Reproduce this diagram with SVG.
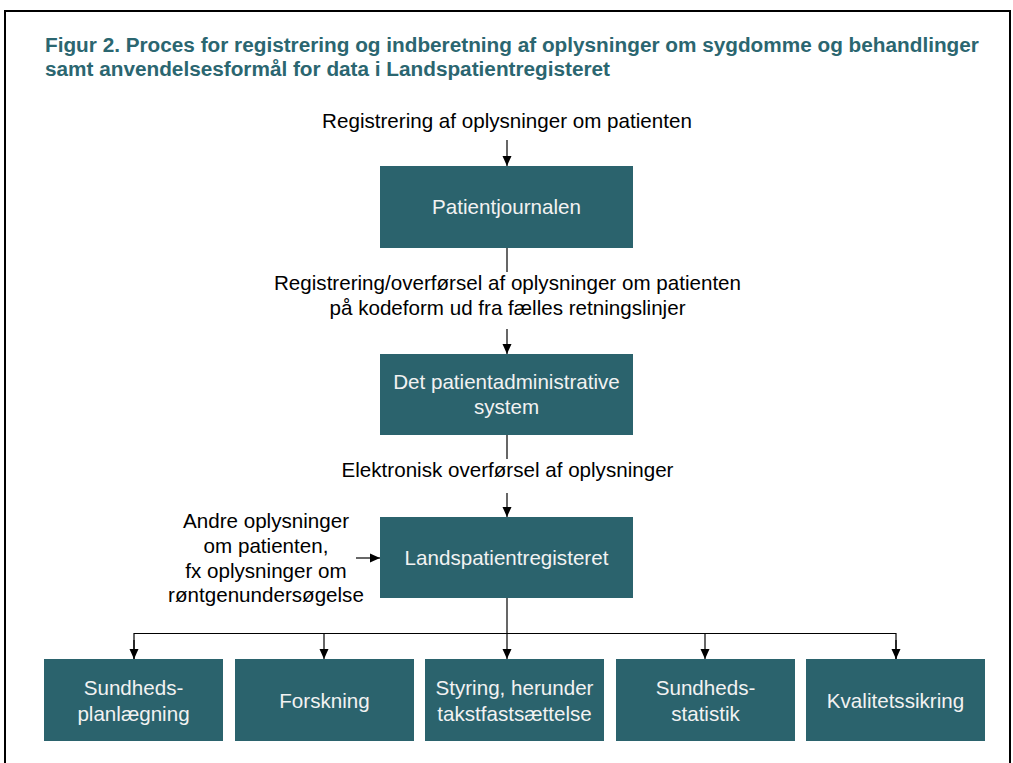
<svg xmlns="http://www.w3.org/2000/svg" width="1013" height="763" viewBox="0 0 1013 763">
  <style>
    .title { font-family: "Liberation Sans", Arial, sans-serif; font-weight: bold; font-size: 20.75px; fill: #2b6670; }
    .lbl { font-family: "Liberation Sans", Arial, sans-serif; font-size: 20.6px; fill: #000; text-anchor: middle; }
    .box { fill: #2b636d; }
    .btxt { font-family: "Liberation Sans", Arial, sans-serif; font-size: 20.6px; fill: #f2f2f2; text-anchor: middle; }
    .conn { stroke: #000; stroke-width: 1.2; fill: none; }
  </style>
  <defs>
    <marker id="arr" markerUnits="userSpaceOnUse" markerWidth="10" markerHeight="10" viewBox="0 0 10 10" refX="10" refY="5" orient="auto">
      <path d="M0,0.5 L10,5 L0,9.5 Z" fill="#000"/>
    </marker>
  </defs>
  <rect x="0" y="0" width="1013" height="763" fill="#fff"/>
  <rect x="5" y="11" width="1005" height="770" fill="none" stroke="#000" stroke-width="2"/>

  <g id="title">
    <text class="title" x="45" y="52">Figur 2. Proces for registrering og indberetning af oplysninger om sygdomme og behandlinger</text>
    <text class="title" x="45" y="76">samt anvendelsesformål for data i Landspatientregisteret</text>
  </g>

  <g id="labels">
    <text class="lbl" x="507" y="128">Registrering af oplysninger om patienten</text>
    <text class="lbl" x="507.5" y="290">Registrering/overførsel af oplysninger om patienten</text>
    <text class="lbl" x="507.5" y="314.5">på kodeform ud fra fælles retningslinjer</text>
    <text class="lbl" x="507.5" y="477">Elektronisk overførsel af oplysninger</text>
    <text class="lbl" x="266" y="528">Andre oplysninger</text>
    <text class="lbl" x="266" y="553">om patienten,</text>
    <text class="lbl" x="266" y="578">fx oplysninger om</text>
    <text class="lbl" x="266" y="602">røntgenundersøgelse</text>
  </g>

  <g id="connectors">
    <line class="conn" x1="507" y1="140" x2="507" y2="166" marker-end="url(#arr)"/>
    <line class="conn" x1="507" y1="248" x2="507" y2="272"/>
    <line class="conn" x1="507" y1="329" x2="507" y2="354" marker-end="url(#arr)"/>
    <line class="conn" x1="507" y1="435" x2="507" y2="459"/>
    <line class="conn" x1="507" y1="493" x2="507" y2="517" marker-end="url(#arr)"/>
    <line class="conn" x1="356" y1="558" x2="380" y2="558" marker-end="url(#arr)"/>
    <line class="conn" x1="507" y1="598" x2="507" y2="659" marker-end="url(#arr)"/>
    <polyline class="conn" points="134,659 134,633.5 896,633.5 896,659"/>
    <line class="conn" x1="134" y1="640" x2="134" y2="659" marker-end="url(#arr)"/>
    <line class="conn" x1="324" y1="633.5" x2="324" y2="659" marker-end="url(#arr)"/>
    <line class="conn" x1="705" y1="633.5" x2="705" y2="659" marker-end="url(#arr)"/>
    <line class="conn" x1="896" y1="640" x2="896" y2="659" marker-end="url(#arr)"/>
  </g>

  <g id="node-patientjournalen">
    <rect class="box" x="380" y="166" width="253" height="82"/>
    <text class="btxt" x="506.5" y="214">Patientjournalen</text>
  </g>
  <g id="node-pas">
    <rect class="box" x="380" y="354" width="253" height="81"/>
    <text class="btxt" x="506.5" y="389">Det patientadministrative</text>
    <text class="btxt" x="506.5" y="414">system</text>
  </g>
  <g id="node-lpr">
    <rect class="box" x="380" y="517" width="253" height="81"/>
    <text class="btxt" x="506.5" y="565">Landspatientregisteret</text>
  </g>

  <g id="node-planlaegning">
    <rect class="box" x="44" y="659" width="179" height="82"/>
    <text class="btxt" x="133.5" y="695">Sundheds-</text>
    <text class="btxt" x="133.5" y="721">planlægning</text>
  </g>
  <g id="node-forskning">
    <rect class="box" x="235" y="659" width="179" height="82"/>
    <text class="btxt" x="324.5" y="708">Forskning</text>
  </g>
  <g id="node-styring">
    <rect class="box" x="425" y="659" width="179" height="82"/>
    <text class="btxt" x="514.5" y="695">Styring, herunder</text>
    <text class="btxt" x="514.5" y="721">takstfastsættelse</text>
  </g>
  <g id="node-statistik">
    <rect class="box" x="616" y="659" width="179" height="82"/>
    <text class="btxt" x="705.5" y="695">Sundheds-</text>
    <text class="btxt" x="705.5" y="721">statistik</text>
  </g>
  <g id="node-kvalitet">
    <rect class="box" x="806" y="659" width="179" height="82"/>
    <text class="btxt" x="895.5" y="708">Kvalitetssikring</text>
  </g>
</svg>
